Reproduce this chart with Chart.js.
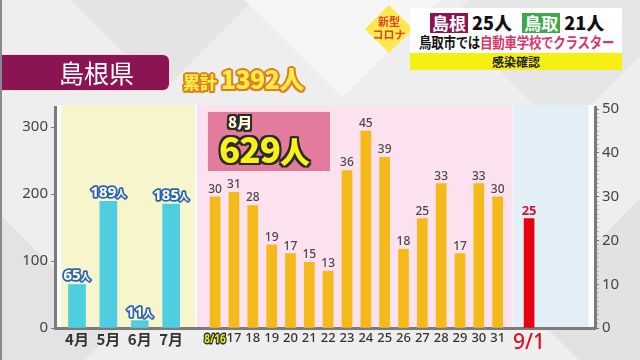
<!DOCTYPE html>
<html lang="ja">
<head>
<meta charset="utf-8">
<script src="https://cdn.jsdelivr.net/npm/chart.js@4.4.1/dist/chart.umd.min.js"></script>
<style>
  html, body { margin: 0; padding: 0; }
  body { width: 640px; height: 360px; overflow: hidden; background: #eeeeee; font-family: "Noto Sans CJK JP", "Noto Sans", sans-serif; }
  #stage { position: relative; width: 640px; height: 360px; overflow: hidden; border-left: 2px solid #8a8a8a; box-sizing: border-box; }
  .shape { position: absolute; transform: rotate(45deg); }
  #chart { position: absolute; left: 0; top: 0; }
  .abs { position: absolute; }
  #pref { left: 0; top: 55px; width: 167px; height: 35px; background: #8b1552; border-radius: 0 6px 6px 0; color: #fff; font-size: 25px; line-height: 35px; text-align: center; padding-left: 22px; box-sizing: border-box; box-shadow: 0 0 0 1px #f3d6e0; }
  #total { left: 181px; top: 60px; color: #fbe94a; font-weight: 900; white-space: nowrap;
    text-shadow: -1.5px -1.5px 0 #d9821c, 1.5px -1.5px 0 #d9821c, -1.5px 1.5px 0 #d9821c, 1.5px 1.5px 0 #d9821c, 0 2px 0 #d9821c, 2px 0 0 #d9821c, -2px 0 0 #d9821c, 0 -2px 0 #d9821c; }
  #total .s { font-size: 17px; }
  #total .b { font-size: 25px; letter-spacing: -0.5px; }
  #diamond { left: 370px; top: 12px; width: 34px; height: 34px; background: #fde84f; transform: rotate(45deg); }
  #dtext { left: 364px; top: 15px; width: 46px; text-align: center; color: #e0452a; font-size: 11px; line-height: 13px; font-weight: 700; }
  #headbox { left: 408px; top: 8px; width: 212px; height: 45px; background: #fff; }
  #strip { left: 408px; top: 53px; width: 212px; height: 17px; background: #f6ef12; text-align: center; font-size: 12px; line-height: 17px; color: #222; font-weight: 700; }
  #row1 { left: 428px; top: 11px; white-space: nowrap; font-size: 18px; line-height: 22px; font-weight: 900; color: #111; }
  .tag { display: inline-block; color: #fff; padding: 0 2px; font-size: 17px; line-height: 20px; font-weight: 700; }
  #row2 { left: 417px; top: 33px; white-space: nowrap; font-size: 14.5px; line-height: 18px; font-weight: 700; color: #111; letter-spacing: -0.3px; transform: scaleX(0.86); transform-origin: left center; }
  #row2 span { color: #d8366a; }
  #month-box { left: 206px; top: 112px; width: 122px; height: 59px; background: #e37b9d; }
  .outline { color: #f8f11a; font-weight: 900;
    text-shadow: -2px -2px 0 #2a2a2a, 2px -2px 0 #2a2a2a, -2px 2px 0 #2a2a2a, 2px 2px 0 #2a2a2a, 0 2px 0 #2a2a2a, 2px 0 0 #2a2a2a, -2px 0 0 #2a2a2a, 0 -2px 0 #2a2a2a; }
  #mb1 { left: 226px; top: 113px; font-size: 15px; line-height: 18px; color: #fdfbd8; }
  #mb2 { left: 217px; top: 128px; font-size: 35px; line-height: 40px; letter-spacing: -1px; white-space: nowrap; }
  #mb2 small { font-size: 30px; }
</style>
</head>
<body>
<div id="stage">
  <div class="shape" style="left:60px;top:-150px;width:200px;height:200px;background:#e4e4e4;"></div>
  <div class="shape" style="left:250px;top:-120px;width:180px;height:180px;background:#f6f6f6;"></div>
  <div class="shape" style="left:480px;top:-60px;width:160px;height:160px;background:#e6e6e6;"></div>
  <div class="shape" style="left:-80px;top:250px;width:160px;height:160px;background:#e3e3e3;"></div>
  <div class="shape" style="left:560px;top:230px;width:160px;height:160px;background:#e2e2e2;"></div>

  <canvas id="chart" width="640" height="360"></canvas>

  <div id="pref" class="abs">島根県</div>
  <div id="total" class="abs"><span class="s">累計</span> <span class="b">1392人</span></div>

  <div id="diamond" class="abs"></div>
  <div id="dtext" class="abs">新型<br>コロナ</div>
  <div id="headbox" class="abs"></div>
  <div id="row1" class="abs"><span class="tag" style="background:#8b1552">島根</span> 25人 <span class="tag" style="background:#3fa84a;margin-left:6px">鳥取</span> 21人</div>
  <div id="row2" class="abs">鳥取市では<span>自動車学校でクラスター</span></div>
  <div id="strip" class="abs">感染確認</div>

  <div id="month-box" class="abs"></div>
  <div id="mb1" class="abs outline">8月</div>
  <div id="mb2" class="abs outline">629<small>人</small></div>
</div>

<script>
// monthly totals (left axis)
const months = ["4月", "5月", "6月", "7月"];
const monthCases = [65, 189, 11, 185];

// daily counts (right axis)
const days = ["8/16", "17", "18", "19", "20", "21", "22", "23", "24", "25", "26", "27", "28", "29", "30", "31"];
const dayCases = [30, 31, 28, 19, 17, 15, 13, 36, 45, 39, 18, 25, 33, 17, 33, 30];
const latestDay = "9/1";
const latestCases = 25;

const leftTicks = [0, 100, 200, 300];
const rightTicks = [0, 10, 20, 30, 40, 50];

// one category axis, split into narrow slots so the two groups keep their spacing
const SLOT_COUNT = 86;
const monthSlot = i => 3 + 5 * i;
const daySlot = j => 25 + 3 * j;
const latestSlot = 75;

const labels = new Array(SLOT_COUNT).fill("");
const monthData = new Array(SLOT_COUNT).fill(null);
const dayData = new Array(SLOT_COUNT).fill(null);
const latestData = new Array(SLOT_COUNT).fill(null);

months.forEach((m, i) => { labels[monthSlot(i)] = m; monthData[monthSlot(i)] = monthCases[i]; });
days.forEach((d, j) => { labels[daySlot(j)] = d; dayData[daySlot(j)] = dayCases[j]; });
labels[latestSlot] = latestDay;
latestData[latestSlot] = latestCases;

const zones = [
  { from: 1, to: 22.3, color: "#f6f5cc" },
  { from: 22.6, to: 72.9, color: "#fce1ee" },
  { from: 73, to: 85, color: "#e2eff6" },
];

const backgroundPlugin = {
  id: "zones",
  beforeDraw(chart) {
    const { ctx, chartArea } = chart;
    const x = chart.scales.x;
    const u = x.width / SLOT_COUNT;
    const top = chartArea.top - 2;
    ctx.save();
    ctx.fillStyle = "#ffffff";
    ctx.fillRect(chartArea.left, top, chartArea.right - chartArea.left, chartArea.bottom - top);
    zones.forEach(z => {
      ctx.fillStyle = z.color;
      ctx.fillRect(x.left + z.from * u, top, (z.to - z.from) * u, chartArea.bottom - top);
    });
    ctx.restore();
  }
};

const labelPlugin = {
  id: "barLabels",
  afterDatasetsDraw(chart) {
    const ctx = chart.ctx;
    ctx.save();
    ctx.textBaseline = "alphabetic";
    ctx.lineJoin = "round";

    // monthly: white with blue outline, "人" smaller
    chart.getDatasetMeta(0).data.forEach((bar, i) => {
      const v = monthData[i];
      if (v === null) return;
      const numFont = "bold 15px 'Noto Sans', sans-serif";
      const unitFont = "bold 10px 'Noto Sans CJK JP', sans-serif";
      ctx.font = numFont;
      const w1 = ctx.measureText(String(v)).width;
      ctx.font = unitFont;
      const w2 = ctx.measureText("人").width;
      const x0 = bar.x - (w1 + w2) / 2;
      const y0 = bar.y - 4;
      ctx.lineWidth = 3.5;
      ctx.strokeStyle = "#2c62b0";
      ctx.fillStyle = "#ffffff";
      ctx.textAlign = "left";
      ctx.font = numFont;
      ctx.strokeText(String(v), x0, y0);
      ctx.fillText(String(v), x0, y0);
      ctx.font = unitFont;
      ctx.strokeText("人", x0 + w1, y0);
      ctx.fillText("人", x0 + w1, y0);
    });

    ctx.textAlign = "center";
    chart.getDatasetMeta(1).data.forEach((bar, i) => {
      const v = dayData[i];
      if (v === null) return;
      ctx.font = "500 12px 'Noto Sans', sans-serif";
      ctx.fillStyle = "#4a4a4a";
      ctx.fillText(String(v), bar.x, bar.y - 4);
    });

    chart.getDatasetMeta(2).data.forEach((bar, i) => {
      const v = latestData[i];
      if (v === null) return;
      ctx.font = "bold 13px 'Noto Sans', sans-serif";
      ctx.fillStyle = "#d8102a";
      ctx.fillText(String(v), bar.x, bar.y - 4);
    });

    // highlighted first day label under the axis
    const x = chart.scales.x;
    const px = x.getPixelForValue(daySlot(0));
    ctx.translate(px, x.top + 11);
    ctx.scale(0.78, 1);
    ctx.font = "bold 13px 'Noto Sans', sans-serif";
    ctx.textBaseline = "middle";
    ctx.lineWidth = 3;
    ctx.strokeStyle = "#2a2a2a";
    ctx.fillStyle = "#e4ef1c";
    ctx.strokeText(days[0], 0, 0);
    ctx.fillText(days[0], 0, 0);
    ctx.restore();
  }
};

new Chart(document.getElementById("chart"), {
  type: "bar",
  data: {
    labels,
    datasets: [
      { data: monthData, yAxisID: "y", backgroundColor: "#4fcde1", barThickness: 17, grouped: false },
      { data: dayData, yAxisID: "y2", backgroundColor: "#f5b91a", barThickness: 10, grouped: false },
      { data: latestData, yAxisID: "y2", backgroundColor: "#e60012", barThickness: 10, grouped: false },
    ],
  },
  options: {
    responsive: false,
    animation: false,
    events: [],
    layout: { padding: { top: 107, left: 0, right: 0, bottom: 0 } },
    plugins: { legend: { display: false }, tooltip: { enabled: false } },
    scales: {
      x: {
        grid: { display: false, drawTicks: false },
        border: { color: "#7b7b7b", width: 3 },
        afterFit: s => { s.height = 32; },
        ticks: {
          autoSkip: false,
          maxRotation: 0,
          padding: 2,
          color: c => c.index === latestSlot ? "#d8102a" : (c.index === daySlot(0) ? "rgba(0,0,0,0)" : "#333333"),
          font: c => {
            if (c.index === latestSlot) return { size: 21, weight: "500", family: "'Noto Sans', sans-serif" };
            if (c.index < daySlot(0)) return { size: 15, weight: "bold", family: "'Noto Sans CJK JP', sans-serif" };
            return { size: 13, weight: "500", family: "'Noto Sans', sans-serif" };
          },
        },
      },
      y: {
        position: "left",
        min: 0,
        max: 330,
        afterBuildTicks: s => { s.ticks = leftTicks.map(v => ({ value: v })); },
        afterFit: s => { s.width = 53; },
        grid: { drawOnChartArea: false, tickLength: 4, color: "#7b7b7b" },
        border: { color: "#7b7b7b", width: 3 },
        ticks: { padding: 3, color: "#444", font: { size: 15, family: "'Noto Sans', sans-serif" } },
      },
      y2: {
        position: "right",
        min: 0,
        max: 50.5,
        afterBuildTicks: s => {
          const top = rightTicks[rightTicks.length - 1];
          const t = [];
          for (let v = 0; v <= top; v++) t.push({ value: v });
          s.ticks = t;
        },
        afterFit: s => { s.width = 47; },
        grid: {
          drawOnChartArea: false,
          tickLength: 4,
          tickColor: c => rightTicks.includes(c.tick.value) ? "#6f6f6f" : "#b5b5b5",
        },
        border: { color: "#7b7b7b", width: 3 },
        ticks: {
          autoSkip: false,
          padding: 3,
          color: "#444",
          font: { size: 15, family: "'Noto Sans', sans-serif" },
          callback: v => rightTicks.includes(v) ? v : "",
        },
      },
    },
  },
  plugins: [backgroundPlugin, labelPlugin],
});
</script>
</body>
</html>
